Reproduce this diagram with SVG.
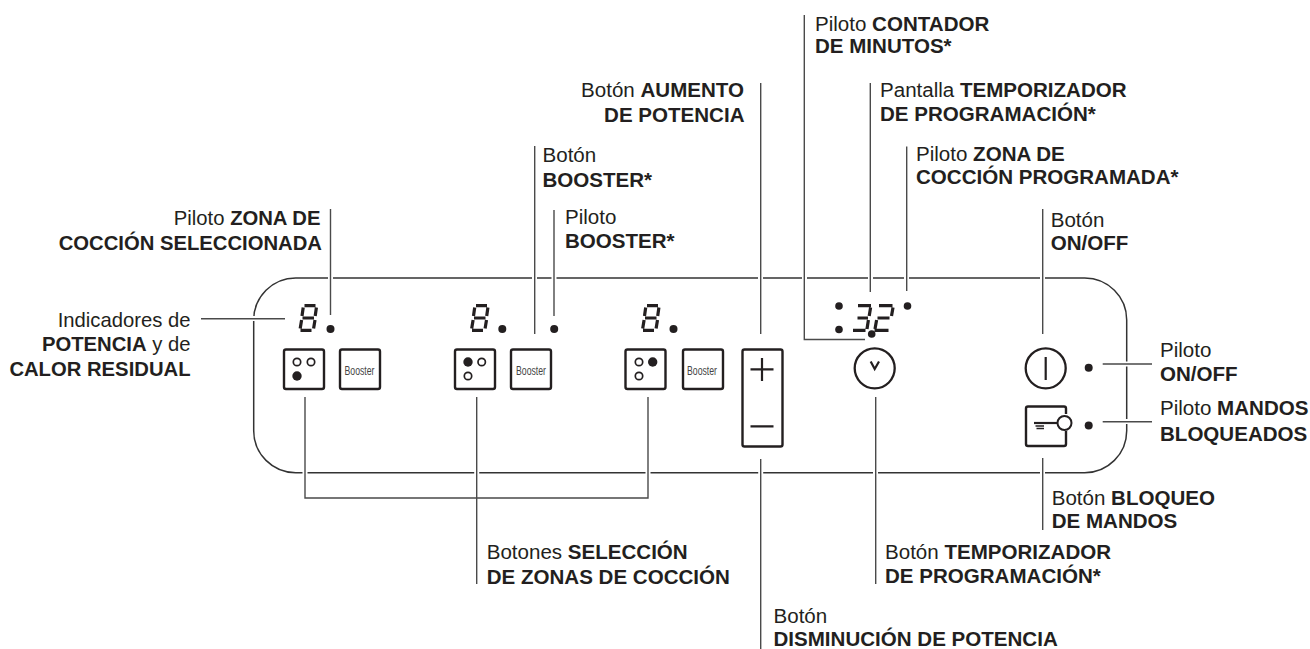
<svg xmlns="http://www.w3.org/2000/svg" xmlns:xlink="http://www.w3.org/1999/xlink" width="1310" height="649" viewBox="0 0 1310 649">
<style>
text{font-family:"Liberation Sans",Arial,sans-serif;font-size:20.55px;fill:#231f20}
tspan.b,text.b{font-weight:700}
.e{text-anchor:end}
text.l{font-size:20.25px}
.lead{fill:none;stroke:#4a4a4a;stroke-width:1.4}
.halo{fill:#fff}
.panel{fill:none;stroke:#333;stroke-width:1.5}
.btn{fill:#fff;stroke:#231f20;stroke-width:2.4}
.ring{fill:#fff;stroke:#231f20;stroke-width:1.7}
.dot{fill:#231f20}
.seg{fill:none;stroke:#231f20;stroke-width:3.2;stroke-linecap:butt}
text.bt{font-size:12px;fill:#444}
.ic{fill:none;stroke:#231f20;stroke-width:2.2}
</style>
<defs>
<g id="s8" class="seg"><path d="M6.5 1.6H17.5M4.5 14H16M2.5 26.4H13.5M5.2 3.5L4 12M3.6 16L2.2 24.6M18.4 3.5L17.2 12M17 16L15.6 24.6"/></g>
</defs>
<g id="panel"><rect class="panel" x="253.7" y="278" width="873" height="194.7" rx="42" ry="42"/></g>
<g id="connectors">
<path class="halo" d="M302.5 470h5v5h-5zM474.2 470h5v5h-5zM645.5 470h5v5h-5zM758.2 470h5v5h-5zM873 470h5v5h-5zM1040 470h5v5h-5zM328 275.5h5v5h-5zM532 275.5h5v5h-5zM551.5 275.5h5v5h-5zM758 275.5h5v5h-5zM802 275.5h5v5h-5zM868 275.5h5v5h-5zM904 275.5h5v5h-5zM1040 275.5h5v5h-5zM251 316h5v5h-5zM1124 361.5h5v5h-5zM1124 419h5v5h-5z"/>
<path class="lead" d="M201 318.8H285M330.5 209V315M534.7 146V334M554 210V316M760.7 83V334M804.3 15V339.5H865M870.3 83V292M906.7 146.5V291M1042.7 209V334M1102.7 364H1152M1102.7 421.7H1152M305 397V498H648V397M476.7 397V584M760.7 459V649M875.7 397V584M1042.7 458V530"/>
</g>
<g id="display-1"><use xlink:href="#s8" x="298" y="304"/><circle class="dot" cx="330.5" cy="329" r="4"/></g>
<g id="display-2"><use xlink:href="#s8" x="469.5" y="304"/><circle class="dot" cx="502.3" cy="329" r="4"/></g>
<g id="display-3"><use xlink:href="#s8" x="640.5" y="304"/><circle class="dot" cx="673.5" cy="329" r="4"/></g>
<g id="booster-pilot"><circle class="dot" cx="554.2" cy="329" r="4"/></g>
<g id="zone-1"><rect class="btn" x="284" y="349.5" width="40" height="39.5" rx="2"/><circle class="ring" cx="297" cy="362" r="3.7"/><circle class="ring" cx="311" cy="362" r="3.7"/><circle class="dot" cx="297" cy="376" r="4.7"/></g>
<g id="booster-1"><rect class="btn" x="340" y="349.5" width="40" height="39.5" rx="2"/><text class="bt" x="344.5" y="374.5" textLength="30" lengthAdjust="spacingAndGlyphs">Booster</text></g>
<g id="zone-2"><rect class="btn" x="455" y="349.5" width="40" height="39.5" rx="2"/><circle class="dot" cx="468" cy="362" r="4.7"/><circle class="ring" cx="481.7" cy="362" r="3.7"/><circle class="ring" cx="468" cy="376" r="3.7"/></g>
<g id="booster-2"><rect class="btn" x="511" y="349.5" width="40" height="39.5" rx="2"/><text class="bt" x="516" y="374.5" textLength="30" lengthAdjust="spacingAndGlyphs">Booster</text></g>
<g id="zone-3"><rect class="btn" x="625.5" y="349.5" width="40" height="39.5" rx="2"/><circle class="ring" cx="639" cy="362" r="3.7"/><circle class="dot" cx="652.7" cy="362" r="4.7"/><circle class="ring" cx="639" cy="376" r="3.7"/></g>
<g id="booster-3"><rect class="btn" x="683" y="349.5" width="40" height="39.5" rx="2"/><text class="bt" x="687" y="374.5" textLength="30" lengthAdjust="spacingAndGlyphs">Booster</text></g>
<g id="power"><rect class="btn" x="742.5" y="349.5" width="40" height="97" rx="2"/><path class="ic" d="M750.5 369.3H773.5M762 358V381M750.5 426.3H773.5"/></g>
<g id="timer-display"><circle class="dot" cx="839" cy="306" r="3.8"/><circle class="dot" cx="839" cy="329.5" r="3.8"/><circle class="dot" cx="907.5" cy="306" r="3.8"/><circle class="dot" cx="871.7" cy="334" r="3.8"/>
<path class="seg" d="M858 305.6H871M870.6 307.5L869.2 316M857.5 318H868M868.4 320L867 329M853 330.4H865.5"/><path class="seg" d="M879 305.6H892.5M893 307.5L891.5 316M877.5 318H889.5M876.6 320L875 329M874.5 330.4H888.5"/></g>
<g id="timer-btn"><circle cx="874.7" cy="368.3" r="20" fill="#fff" stroke="#231f20" stroke-width="2.3"/><path class="ic" d="M870.7 361.5L874.7 369L879 361.5"/></g>
<g id="onoff"><circle cx="1045.7" cy="368.3" r="20" fill="#fff" stroke="#231f20" stroke-width="2.3"/><path class="ic" d="M1045.7 357V380"/><circle class="dot" cx="1088.7" cy="367.7" r="4"/></g>
<g id="lock"><path class="btn" style="fill:none" d="M1066 414V408.5Q1066 406.5 1064 406.5H1028Q1026 406.5 1026 408.5V444Q1026 446 1028 446H1064Q1066 446 1066 444V431"/><path class="ic" d="M1034 423H1057"/><path class="ic" style="stroke-width:1.5" d="M1035.5 426H1044M1036.5 428.5H1044"/><circle cx="1064.5" cy="423" r="7" fill="#fff" stroke="#231f20" stroke-width="2"/><circle class="dot" cx="1088.7" cy="425.5" r="4"/></g>
<g id="labels">
<text class="e l" x="190.5" y="326.7">Indicadores de</text>
<text class="e l" x="190.5" y="350.7"><tspan class="b">POTENCIA</tspan> y de</text>
<text class="e l" x="190.5" y="375.5"><tspan class="b">CALOR RESIDUAL</tspan></text>
<text class="e l" x="320.5" y="225">Piloto <tspan class="b">ZONA DE</tspan></text>
<text class="e l" x="322" y="250"><tspan class="b">COCCIÓN SELECCIONADA</tspan></text>
<text x="542.5" y="161.7">Botón</text><text class="b" x="542.5" y="186.5">BOOSTER*</text>
<text x="565" y="224">Piloto</text><text class="b" x="565" y="248">BOOSTER*</text>
<text class="e" x="744" y="97.3">Botón <tspan class="b">AUMENTO</tspan></text>
<text class="e" x="744.5" y="121.5"><tspan class="b">DE POTENCIA</tspan></text>
<text x="815" y="30.5">Piloto <tspan class="b">CONTADOR</tspan></text>
<text class="b" x="815" y="53.3">DE MINUTOS*</text>
<text x="880" y="97.3">Pantalla <tspan class="b">TEMPORIZADOR</tspan></text>
<text class="b" x="880" y="120.7">DE PROGRAMACIÓN*</text>
<text x="916" y="160.7">Piloto <tspan class="b">ZONA DE</tspan></text>
<text class="b" x="916" y="184.3">COCCIÓN PROGRAMADA*</text>
<text x="1050.7" y="226.7">Botón</text><text class="b" x="1050.7" y="250">ON/OFF</text>
<text x="1160" y="356.7">Piloto</text><text class="b" x="1160" y="380.7">ON/OFF</text>
<text x="1160" y="415">Piloto <tspan class="b">MANDOS</tspan></text>
<text class="b" x="1160" y="441">BLOQUEADOS</text>
<text x="1051.7" y="504.5">Botón <tspan class="b">BLOQUEO</tspan></text>
<text class="b" x="1051.7" y="528.3">DE MANDOS</text>
<text x="486.7" y="559">Botones <tspan class="b">SELECCIÓN</tspan></text>
<text class="b" x="486.7" y="584">DE ZONAS DE COCCIÓN</text>
<text x="885" y="559.3">Botón <tspan class="b">TEMPORIZADOR</tspan></text>
<text class="b" x="885" y="583.3">DE PROGRAMACIÓN*</text>
<text x="773.5" y="622.7">Botón</text><text class="b" x="773.5" y="646">DISMINUCIÓN DE POTENCIA</text>
</g>
</svg>
